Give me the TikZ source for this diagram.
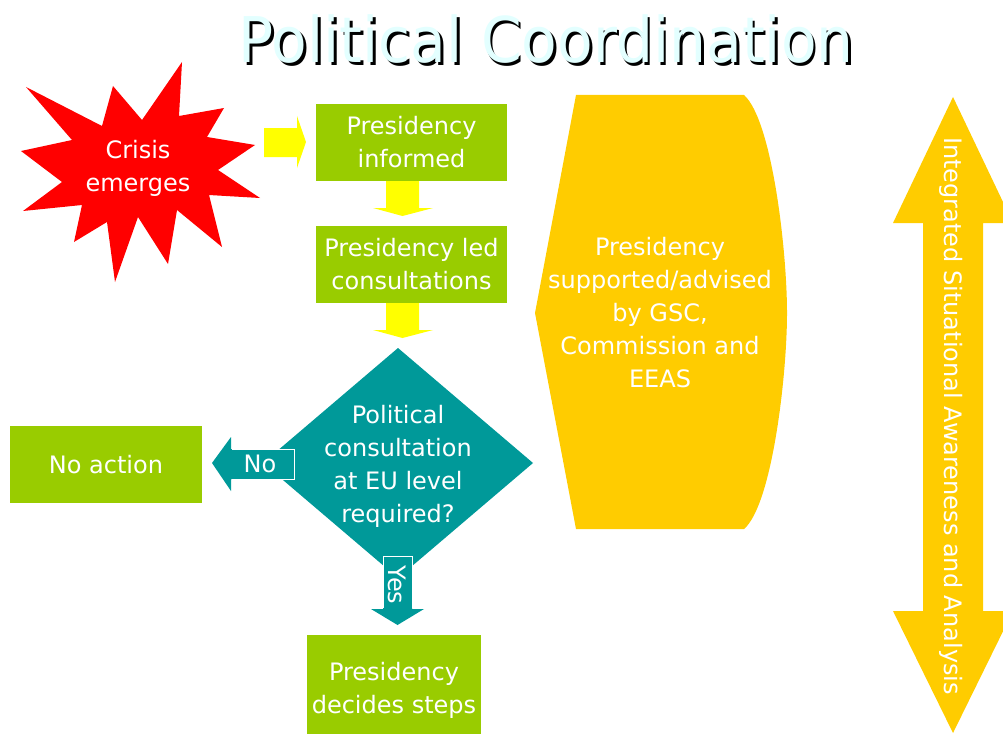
\documentclass[tikz,border=0pt]{standalone}
\usepackage{fontspec}
\setmainfont{DejaVu Sans}

\definecolor{crisisred}{HTML}{FF0000}
\definecolor{flowyellow}{HTML}{FFFF00}
\definecolor{boxgreen}{HTML}{99CC00}
\definecolor{decisionteal}{HTML}{009999}
\definecolor{supportgold}{HTML}{FFCC00}
\definecolor{titlecyan}{HTML}{E3FFFF}

\newcommand{\shadowtitle}[1]{\scalebox{0.925}[1]{\rlap{\hspace{3pt}\raisebox{-3pt}{\color{black}#1}}\textcolor{titlecyan}{#1}}}

\begin{document}
\begin{tikzpicture}[x=1pt, y=-1pt,
		txt/.style={text=white, align=center, inner sep=0pt, font=\fontsize{24}{33}\selectfont},
		stepbox/.style={txt, fill=boxgreen, minimum width=191pt, minimum height=77pt},
		titletxt/.style={anchor=base, inner sep=0pt, font=\fontsize{63}{63}\selectfont},
		shaftline/.style={draw=white, line width=0.8pt}
	]
	\useasboundingbox (0, 0) rectangle (1003, 733);
	\clip (0, 0) rectangle (1003, 733);

	\node[titletxt]	(title) at (546, 63) {\shadowtitle{Political Coordination}};

	\fill[crisisred]	(26, 87) -- (102, 126) -- (113, 86) -- (142, 120) -- (182, 62) -- (179, 116)
						-- (224, 108) -- (207, 137) -- (255, 145) -- (218, 170) -- (260, 198) -- (209, 195)
						-- (222, 247) -- (177, 210) -- (168, 264) -- (138, 217) -- (115, 282) -- (107, 222)
						-- (74, 242) -- (82, 205) -- (23, 211) -- (62, 182) -- (21, 151) -- (72, 140) -- cycle;
	\node[txt]	(crisis) at (138, 168) {Crisis\\emerges};

	\node[stepbox]	(informed) at (411.5, 142.5) {Presidency\\informed};
	\node[stepbox]	(consult) at (411.5, 264.5) {Presidency led\\consultations};
	\node[stepbox, minimum width=192pt]	(noaction) at (106, 464.5) {No action};
	\node[stepbox, minimum width=174pt, minimum height=110pt]	(decides) at (394, 690) {Presidency\\decides steps};

	\fill[flowyellow]	(264, 128) -- (297, 128) -- (297, 116) -- (306, 142) -- (297, 168) -- (297, 157) -- (264, 157) -- cycle;
	\fill[flowyellow]	(386, 181) -- (419, 181) -- (419, 208) -- (433, 208) -- (402.5, 216) -- (373, 208) -- (386, 208) -- cycle;
	\fill[flowyellow]	(386, 303) -- (419, 303) -- (419, 330) -- (433, 330) -- (402.5, 338) -- (373, 330) -- (386, 330) -- cycle;

	\fill[decisionteal]	(398, 348) -- (533, 463) -- (398, 578) -- (263, 463) -- cycle;
	\node[txt]	(question) at (398, 466) {Political\\consultation\\at EU level\\required?};

	\fill[decisionteal]	(294, 449) -- (231, 449) -- (231, 437) -- (212, 463) -- (231, 491) -- (231, 479) -- (294, 479) -- cycle;
	\draw[shaftline]	(232, 449) -- (294, 449) -- (294, 479) -- (232, 479);
	\node[txt]	(no) at (260, 464) {No};

	\fill[decisionteal]	(383, 556) -- (412, 556) -- (412, 609) -- (424, 609) -- (397.5, 625) -- (371, 609) -- (383, 609) -- cycle;
	\draw[shaftline]	(383, 608) -- (383, 556) -- (412, 556) -- (412, 608);
	\node[txt, rotate=-90]	(yes) at (397.5, 585) {Yes};

	\fill[supportgold]	(576, 95) -- (744, 95) .. controls (772, 120) and (787, 250) .. (787, 313)
						.. controls (787, 376) and (772, 505) .. (744, 529) -- (576, 529) -- (535, 313) -- cycle;
	\node[txt]	(support) at (660, 313) {Presidency\\supported/advised\\by GSC,\\Commission and\\EEAS};

	\fill[supportgold]	(953, 97) -- (1013, 223) -- (983, 223) -- (983, 611) -- (1013, 611) -- (953, 733)
						-- (893, 611) -- (923, 611) -- (923, 223) -- (893, 223) -- cycle;
	\node[txt, rotate=-90]	(awareness) at (951, 416) {Integrated Situational Awareness and Analysis};
\end{tikzpicture}
\end{document}
